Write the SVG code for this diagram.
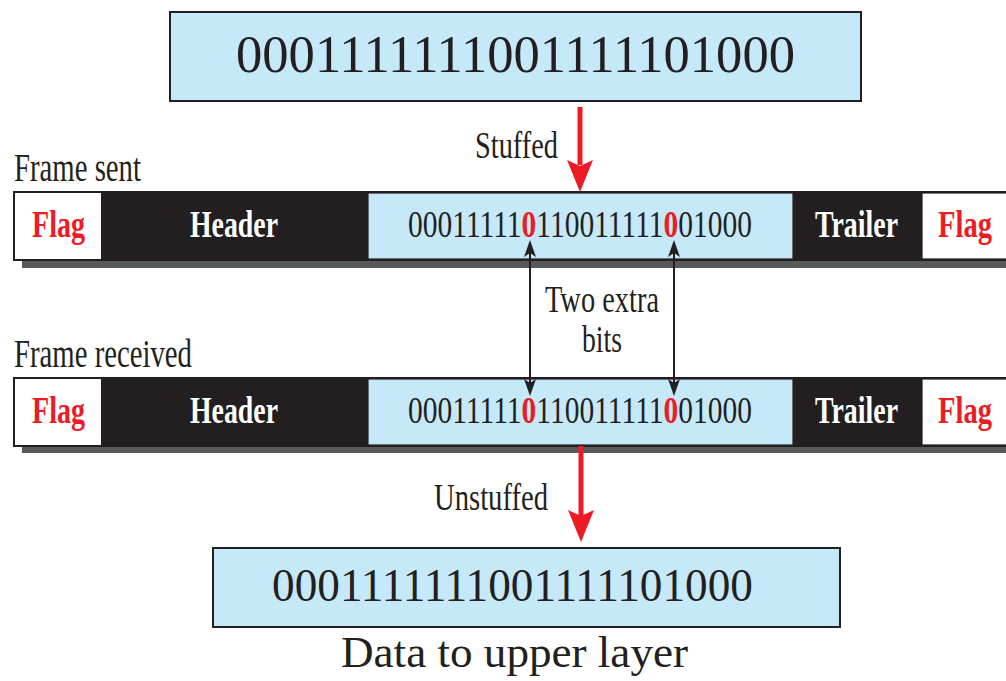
<svg xmlns="http://www.w3.org/2000/svg" width="1006" height="681" viewBox="0 0 1006 681">
<style>
text{font-family:"Liberation Serif","Times New Roman",serif;fill:#231f20}
.bold{font-weight:bold}
.w{fill:#ffffff}
.r{fill:#ed1c24}
.rb{fill:#ed1c24;font-weight:bold}
.blue{fill:#c6e9fa}
.blk{fill:#231f20}
.shadow{fill:#58595b}
.box{stroke:#231f20;stroke-width:2}
.thin{stroke:#231f20;stroke-width:1.2}
.bi{stroke:#231f20;stroke-width:2;fill:none}
.head{fill:#231f20}
</style>

<g id="data-sent">
<rect x="170" y="12" width="691" height="89" class="blue box"/>
<text x="236" y="72" font-size="52" textLength="559" lengthAdjust="spacingAndGlyphs">0001111111001111101000</text>
</g>

<g id="frame-sent">
<text x="14" y="181" font-size="39" textLength="127" lengthAdjust="spacingAndGlyphs">Frame sent</text>
<rect x="22" y="200" width="1000" height="68" class="shadow"/>
<rect x="14" y="192" width="1000" height="68" class="blk box"/>
<rect x="14" y="192" width="88" height="68" class="w box"/>
<rect x="368" y="193" width="425" height="66" class="blue thin"/>
<rect x="922" y="193" width="90" height="66" class="w thin"/>
<text x="32" y="237" font-size="38" class="bold r" textLength="53" lengthAdjust="spacingAndGlyphs">Flag</text>
<text x="190" y="237" font-size="38" class="bold w" textLength="88" lengthAdjust="spacingAndGlyphs">Header</text>
<text x="408" y="237" font-size="38" textLength="344" lengthAdjust="spacingAndGlyphs">00011111<tspan class="rb">0</tspan>110011111<tspan class="rb">0</tspan>01000</text>
<text x="815" y="237" font-size="38" class="bold w" textLength="83" lengthAdjust="spacingAndGlyphs">Trailer</text>
<text x="938" y="237" font-size="38" class="bold r" textLength="54" lengthAdjust="spacingAndGlyphs">Flag</text>
</g>

<g id="frame-received">
<text x="14" y="367" font-size="39" textLength="178" lengthAdjust="spacingAndGlyphs">Frame received</text>
<rect x="22" y="386" width="1000" height="67" class="shadow"/>
<rect x="14" y="378" width="1000" height="68" class="blk box"/>
<rect x="14" y="378" width="88" height="68" class="w box"/>
<rect x="368" y="379" width="425" height="66" class="blue thin"/>
<rect x="922" y="379" width="90" height="66" class="w thin"/>
<text x="32" y="423" font-size="38" class="bold r" textLength="53" lengthAdjust="spacingAndGlyphs">Flag</text>
<text x="190" y="423" font-size="38" class="bold w" textLength="88" lengthAdjust="spacingAndGlyphs">Header</text>
<text x="408" y="423" font-size="38" textLength="344" lengthAdjust="spacingAndGlyphs">00011111<tspan class="rb">0</tspan>110011111<tspan class="rb">0</tspan>01000</text>
<text x="815" y="423" font-size="38" class="bold w" textLength="83" lengthAdjust="spacingAndGlyphs">Trailer</text>
<text x="938" y="423" font-size="38" class="bold r" textLength="54" lengthAdjust="spacingAndGlyphs">Flag</text>
</g>

<g id="data-received">
<rect x="213" y="548" width="627" height="79" class="blue box"/>
<text x="272" y="601" font-size="46" textLength="481" lengthAdjust="spacingAndGlyphs">0001111111001111101000</text>
<text x="341" y="667" font-size="44" textLength="347" lengthAdjust="spacingAndGlyphs">Data to upper layer</text>
</g>

<g id="connectors">
<rect x="577.5" y="107" width="5" height="58" class="r"/>
<path d="M580,192 L567,160 L580,166 L593,160 Z" class="r"/>
<rect x="578.5" y="446" width="5" height="70" class="r"/>
<path d="M581,542 L568,510 L581,516 L594,510 Z" class="r"/>
<line x1="530" y1="250" x2="530" y2="386" class="bi"/>
<path d="M530,240 L524,257 L530,253 L536,257 Z" class="head"/>
<path d="M530,396 L524,379 L530,383 L536,379 Z" class="head"/>
<line x1="674" y1="250" x2="674" y2="386" class="bi"/>
<path d="M674,240 L668,257 L674,253 L680,257 Z" class="head"/>
<path d="M674,396 L668,379 L674,383 L680,379 Z" class="head"/>
</g>

<g id="labels">
<text x="475" y="158" font-size="37" textLength="83" lengthAdjust="spacingAndGlyphs">Stuffed</text>
<text x="545" y="312" font-size="37" textLength="114" lengthAdjust="spacingAndGlyphs">Two extra</text>
<text x="582" y="352" font-size="37" textLength="40" lengthAdjust="spacingAndGlyphs">bits</text>
<text x="434" y="510" font-size="37" textLength="114" lengthAdjust="spacingAndGlyphs">Unstuffed</text>
</g>
</svg>
